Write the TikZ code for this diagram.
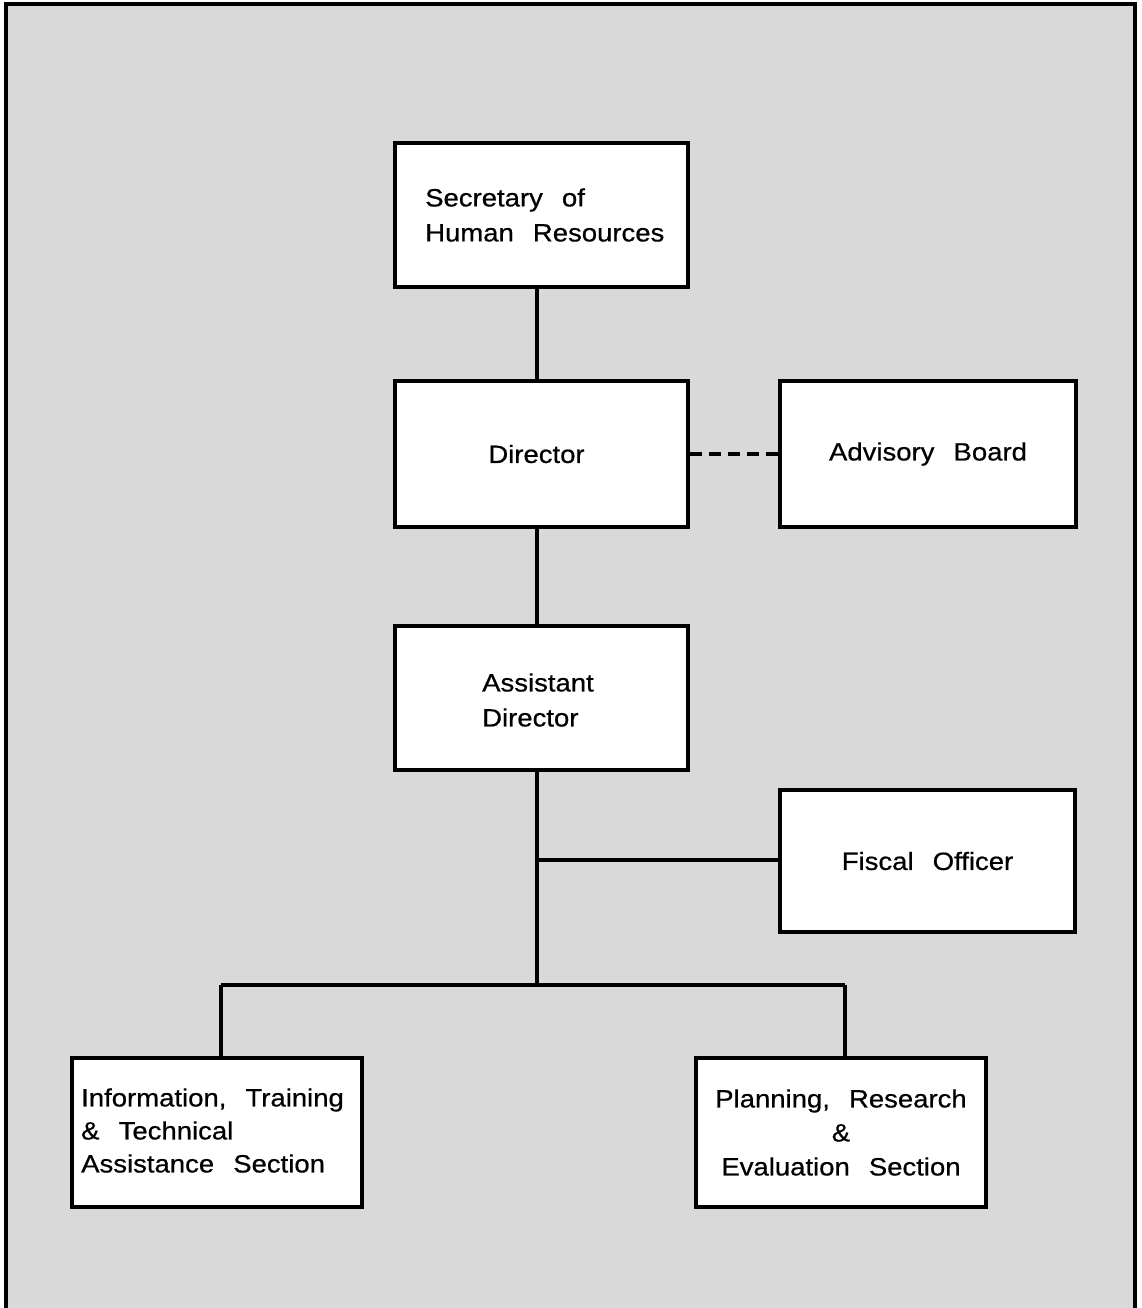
\documentclass[tikz,border=0pt]{standalone}
\usepackage{fontspec}
\setmainfont[FakeStretch=1.1,WordSpace={2.5},FakeBold=0.6]{Liberation Sans}
\begin{document}
\begin{tikzpicture}[x=1pt,y=-1pt,
  box/.style={draw=black,line width=4pt,fill=white,inner sep=0pt,
    font=\fontsize{25}{34}\selectfont},
  txt/.style={align=left,anchor=west,inner sep=0pt},
  conn/.style={line width=3.4pt}]
\useasboundingbox (0,0) rectangle (1141,1308);
\fill[white] (0,0) rectangle (1141,1308);
\fill[black!15] (6,4) rectangle (1135,1312);
\draw[line width=4pt] (6,1320) -- (6,4) -- (1135,4) -- (1135,1320);
% nodes
\node[box,minimum width=293pt,minimum height=144pt] (sec) at (541.5,215) {};
\node[box,minimum width=293pt,minimum height=146pt] (dir) at (541.5,454) {\hspace*{-10pt}Director};
\node[box,minimum width=296pt,minimum height=146pt] (adv) at (928,454) {Advisory Board};
\node[box,minimum width=293pt,minimum height=144pt] (ast) at (541.5,698) {};
\node[box,minimum width=295pt,minimum height=142pt] (fis) at (927.5,861) {Fiscal Officer};
\node[box,minimum width=290pt,minimum height=149pt] (inf) at (217,1132.5) {};
\node[box,minimum width=290pt,minimum height=149pt,align=center] (pla) at (841,1132.5) {Planning, Research\\\&\\Evaluation Section};
% texts
\node[txt,font=\fontsize{25}{35}\selectfont] (sect) at ([xshift=32pt]sec.west) {Secretary of\\Human Resources};
\node[txt,font=\fontsize{25}{35}\selectfont] (astt) at ([xshift=89pt,yshift=-2pt]ast.west) {Assistant\\Director};
\node[txt,font=\fontsize{25}{33}\selectfont] (inft) at ([xshift=11pt,yshift=2pt]inf.west) {Information, Training\\\& Technical\\Assistance Section};
% connectors
\coordinate (spine) at (537,0);
\coordinate (bus) at (0,985);
\draw[conn] (sec.south -| spine) -- (dir.north -| spine);
\draw[conn] (dir.south -| spine) -- (ast.north -| spine);
\draw[conn] (ast.south -| spine) -- (bus -| spine);
\draw[conn] (fis.west |- 0,860) -- (spine |- 0,860);
\draw[conn,line width=4.5pt,dash pattern=on 12pt off 7pt] (dir.east) -- (adv.west);
\draw[conn] ([xshift=4pt]inf.north |- bus) -- ([xshift=4pt]pla.north |- bus);
\draw[conn] ([xshift=4pt]inf.north |- bus) -- ([xshift=4pt]inf.north);
\draw[conn] ([xshift=4pt]pla.north |- bus) -- ([xshift=4pt]pla.north);
\end{tikzpicture}
\end{document}
